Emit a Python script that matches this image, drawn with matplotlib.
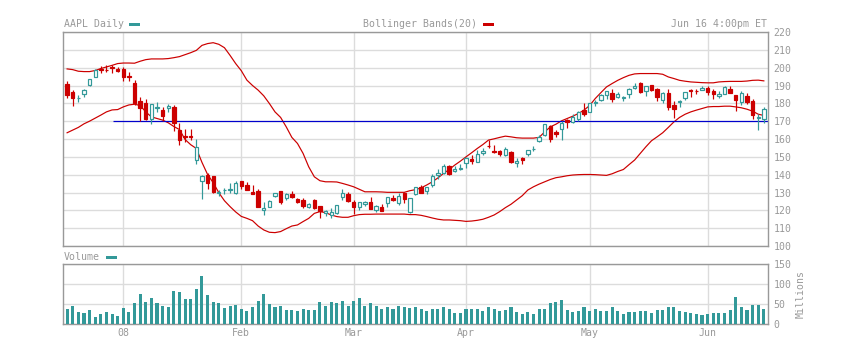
import numpy as np
import pandas as pd
import matplotlib
matplotlib.use('Agg')
import matplotlib.pyplot as plt
from matplotlib.patches import Rectangle

# Daily AAPL prices, 17 Dec 2007 .. 16 Jun 2008
holidays = ['2007-12-25', '2008-01-01', '2008-01-21', '2008-02-18',
            '2008-03-21', '2008-05-26']
dates = pd.bdate_range('2007-12-17', '2008-06-16').drop(pd.to_datetime(holidays))

open_ = [190.72, 186.52, 182.98, 185.43, 190.12, 195.03, 199.01, 198.95, 200.59, 199.50,
         199.27, 195.41, 191.45, 181.25, 180.14, 171.30, 177.58, 176.00, 177.52, 177.72,
         165.23, 161.51, 161.71, 148.06, 136.19, 139.99, 138.99, 129.45, 131.15, 131.37,
         129.45, 136.24, 134.21, 130.43, 130.83, 119.97, 122.08, 128.01, 130.70, 126.68,
         129.40, 126.27, 125.99, 122.00, 126.05, 122.48, 118.59, 117.64, 118.23, 127.20,
         129.29, 124.44, 121.99, 123.58, 124.61, 120.41, 121.98, 124.10, 127.04, 124.10,
         129.88, 119.33, 129.18, 133.12, 131.12, 134.01, 139.96, 140.87, 144.95, 141.80,
         143.27, 146.30, 148.78, 147.06, 152.19, 156.13, 153.55, 153.31, 151.13, 152.72,
         146.77, 149.40, 151.72, 154.17, 159.12, 162.21, 167.40, 164.05, 165.34, 170.70,
         169.75, 171.11, 176.19, 174.96, 180.19, 181.92, 184.66, 186.05, 183.77, 183.16,
         185.21, 188.61, 191.23, 186.81, 190.11, 187.86, 181.82, 185.67, 179.26, 180.77,
         182.75, 187.41, 186.76, 187.45, 188.60, 186.86, 184.02, 185.29, 188.00, 184.79,
         180.51, 184.34, 181.49, 171.64, 171.30]
high = [192.65, 187.33, 184.64, 187.83, 193.91, 199.33, 200.96, 201.33, 201.56, 200.50,
        200.26, 197.39, 193.00, 183.60, 182.46, 179.50, 181.00, 177.85, 179.42, 179.22,
        169.01, 165.36, 165.75, 159.98, 140.00, 140.70, 139.09, 131.50, 132.79, 135.45,
        136.65, 136.59, 135.90, 134.00, 131.92, 124.78, 125.70, 129.98, 131.00, 129.78,
        130.80, 127.08, 126.75, 123.95, 126.47, 122.51, 120.17, 121.09, 123.05, 132.20,
        130.21, 125.98, 124.88, 125.14, 127.50, 122.98, 123.46, 127.48, 128.68, 129.50,
        130.30, 127.00, 133.00, 134.29, 133.29, 140.25, 143.10, 145.74, 145.31, 144.65,
        145.71, 149.66, 151.20, 153.63, 154.71, 159.69, 156.45, 153.89, 155.42, 153.30,
        149.25, 149.72, 154.10, 156.00, 162.26, 168.50, 168.00, 164.84, 169.98, 171.10,
        173.75, 175.66, 180.00, 180.00, 181.92, 185.31, 187.12, 188.20, 186.50, 184.25,
        188.87, 191.45, 192.24, 189.90, 190.30, 188.69, 186.16, 187.95, 181.33, 181.99,
        186.43, 187.95, 188.20, 189.54, 189.65, 188.20, 187.09, 189.96, 189.95, 184.94,
        186.78, 186.00, 182.60, 174.16, 177.90]
low = [182.98, 178.60, 180.90, 183.33, 189.89, 194.79, 196.82, 197.60, 196.88, 197.75,
       192.55, 192.69, 178.89, 170.23, 170.80, 168.30, 175.41, 170.00, 175.17, 164.66,
       156.70, 158.42, 159.61, 146.00, 126.14, 132.01, 129.61, 127.86, 129.05, 130.00,
       129.40, 132.18, 131.42, 128.90, 121.77, 117.27, 121.60, 127.20, 123.62, 125.63,
       127.01, 124.06, 121.44, 121.10, 120.86, 115.87, 116.66, 115.44, 118.09, 125.77,
       124.80, 118.00, 120.40, 122.25, 120.81, 119.05, 119.37, 122.00, 125.17, 123.00,
       124.20, 118.28, 128.67, 129.67, 129.18, 133.35, 137.33, 140.64, 139.99, 141.60,
       142.52, 143.61, 145.85, 147.00, 150.75, 155.11, 152.32, 150.46, 150.60, 146.40,
       144.54, 145.72, 150.62, 153.35, 158.38, 161.76, 158.09, 161.08, 159.19, 166.42,
       169.13, 170.25, 172.92, 174.86, 178.55, 181.05, 182.18, 180.54, 183.07, 181.37,
       182.85, 187.86, 185.57, 184.20, 187.00, 181.30, 180.12, 176.25, 172.00, 177.80,
       181.84, 183.72, 185.50, 187.38, 184.53, 182.34, 183.23, 185.03, 185.55, 175.75,
       179.02, 179.59, 171.20, 165.31, 169.07]
close = [184.40, 182.98, 183.12, 187.21, 193.91, 198.80, 198.95, 198.57, 199.83, 198.08,
         194.84, 194.93, 180.05, 177.64, 171.25, 179.40, 178.02, 172.69, 178.78, 169.04,
         159.64, 160.89, 161.36, 155.64, 139.07, 135.60, 130.01, 130.01, 131.54, 132.18,
         135.36, 133.75, 131.65, 129.36, 122.00, 121.24, 125.48, 129.45, 124.86, 129.40,
         127.46, 124.63, 122.18, 123.82, 121.54, 119.46, 119.74, 119.15, 122.96, 129.91,
         125.02, 121.73, 124.62, 124.49, 120.93, 122.25, 119.69, 127.35, 126.03, 127.94,
         126.61, 126.73, 132.82, 129.67, 133.27, 139.53, 140.98, 145.06, 140.25, 143.01,
         143.50, 149.53, 147.49, 151.61, 153.08, 155.89, 152.84, 151.44, 154.55, 147.14,
         147.78, 148.38, 153.70, 154.49, 161.04, 168.16, 160.20, 162.89, 168.94, 169.73,
         172.24, 175.05, 173.95, 180.00, 180.94, 184.73, 186.66, 182.59, 185.06, 183.45,
         188.16, 189.96, 186.26, 189.73, 187.62, 183.60, 185.90, 178.19, 177.05, 181.17,
         186.43, 187.01, 186.69, 188.75, 186.10, 185.37, 185.19, 189.43, 185.64, 181.61,
         185.64, 180.81, 173.26, 172.37, 176.84]

# Bollinger Bands(20), upper and lower
bb_upper = [199.3, 198.9, 198.0, 197.8, 197.8, 198.4, 199.5, 200.4, 201.3, 202.3,
            202.6, 202.6, 202.5, 203.6, 204.5, 204.9, 204.9, 204.9, 205.1, 205.6,
            206.2, 207.3, 208.4, 209.7, 212.5, 213.5, 214.0, 213.1, 211.2, 206.9,
            202.3, 198.3, 193.0, 190.0, 187.4, 184.2, 179.9, 175.2, 172.1, 166.8,
            160.9, 157.5, 151.9, 144.4, 138.8, 136.6, 136.0, 136.0, 135.9, 135.1,
            134.2, 133.2, 131.8, 130.4, 130.4, 130.4, 130.3, 130.1, 130.1, 130.1,
            130.1, 131.0, 131.6, 132.6, 134.2, 136.0, 138.2, 140.7, 142.9, 145.4,
            147.6, 150.0, 152.3, 154.7, 156.9, 159.4, 160.1, 160.9, 161.6, 161.2,
            160.7, 160.5, 160.5, 160.5, 160.9, 164.0, 166.8, 168.3, 170.2, 171.5,
            172.8, 174.3, 176.2, 178.8, 182.7, 186.0, 189.2, 191.1, 192.9, 194.4,
            195.7, 196.5, 196.7, 196.7, 196.7, 196.7, 196.3, 194.8, 193.9, 192.9,
            192.4, 192.0, 191.8, 191.6, 191.5, 191.5, 192.0, 192.2, 192.3, 192.3,
            192.3, 192.5, 192.9, 193.0, 192.6]
bb_lower = [163.5, 165.0, 166.5, 168.5, 170.0, 171.7, 173.4, 175.2, 176.3, 176.5,
            178.0, 179.1, 179.5, 178.8, 175.2, 172.4, 171.5, 170.6, 169.1, 167.0,
            165.3, 159.7, 156.8, 154.7, 146.9, 140.1, 135.5, 129.9, 125.4, 122.1,
            119.1, 116.6, 115.5, 114.2, 111.2, 109.0, 107.7, 107.5, 108.1, 109.7,
            111.2, 111.8, 113.7, 115.5, 118.3, 119.3, 118.7, 117.4, 116.5, 116.1,
            116.1, 117.0, 117.6, 117.8, 117.8, 117.9, 117.9, 117.9, 117.9, 117.9,
            117.9, 117.6, 117.6, 117.2, 116.5, 115.7, 115.0, 114.6, 114.6, 114.4,
            114.2, 113.8, 114.0, 114.4, 115.0, 116.1, 117.4, 119.3, 121.5, 123.4,
            125.8, 128.2, 131.4, 133.2, 134.7, 136.0, 137.3, 138.3, 138.8, 139.4,
            139.8, 140.0, 140.1, 140.1, 140.0, 139.8, 139.6, 140.5, 141.8, 142.9,
            145.6, 148.2, 151.9, 155.6, 159.0, 161.2, 163.5, 166.5, 169.6, 172.1,
            173.9, 175.2, 176.2, 177.1, 178.0, 178.2, 178.2, 178.4, 178.4, 178.0,
            177.5, 176.7, 175.6, 173.9, 173.2]

# volume, millions of shares
volume = [38.3, 45.8, 30.8, 28.3, 35.8, 18.3, 25.8, 30.8, 25.8, 20.8,
          40.8, 30.8, 53.3, 75.8, 55.8, 65.8, 53.3, 45.8, 41.7, 83.3,
          80.8, 63.3, 63.3, 88.3, 120.8, 73.3, 55.8, 53.3, 40.8, 45.8,
          48.3, 38.3, 33.3, 43.3, 58.3, 75.8, 50.8, 43.3, 45.8, 35.8,
          35.8, 33.3, 38.3, 35.8, 35.8, 55.8, 45.8, 55.8, 53.3, 58.3,
          45.8, 58.3, 65.8, 45.8, 53.3, 45.8, 38.3, 43.3, 38.3, 45.8,
          43.3, 40.8, 43.3, 38.3, 33.3, 38.3, 38.3, 43.3, 38.3, 28.3,
          28.3, 38.3, 38.3, 38.3, 33.3, 43.3, 38.3, 33.3, 35.8, 43.3,
          30.8, 25.8, 30.8, 25.8, 38.3, 38.3, 53.3, 55.8, 60.8, 35.8,
          30.8, 33.3, 43.3, 33.3, 38.3, 33.3, 33.3, 43.3, 33.3, 25.8,
          30.8, 30.8, 33.3, 33.3, 28.3, 35.8, 35.8, 43.3, 43.3, 33.3,
          30.8, 28.3, 25.8, 23.3, 25.8, 28.3, 28.3, 28.3, 35.8, 68.3,
          43.3, 35.8, 48.3, 48.3, 38.3]

# horizontal trend line drawn from the end of December
trend_level = 170
trend_start = 8.2

TEAL = '#339999'
RED = '#cc0000'
GRID = '#dcdcdc'
FRAME = '#999999'
TEXT = '#999999'
W, H = 842, 339
PX = 0.72  # one pixel, in points

plt.rcParams['font.family'] = 'DejaVu Sans Mono'
plt.rcParams['font.size'] = 7.1

o = np.array(open_)
c = np.array(close)
x = np.arange(len(c))
up = c >= o

# first trading day of each month gets a gridline
month_idx = [i for i in range(1, len(dates)) if dates[i].month != dates[i - 1].month]
month_lbl = [dates[i].strftime('%y') if dates[i].month == 1 else dates[i].strftime('%b')
             for i in month_idx]

fig = plt.figure(figsize=(W / 100, H / 100), dpi=100)
ax = fig.add_axes([63 / W, (H - 246) / H, 705 / W, 214 / H])
axv = fig.add_axes([63 / W, (H - 324) / H, 705 / W, 60 / H])

for a in (ax, axv):
    a.set_xlim(-0.73, 124.74)
    a.set_xticks(month_idx)
    a.yaxis.tick_right()
    a.tick_params(length=0, colors=TEXT, labelsize=7.1)
    a.tick_params(axis='y', pad=4)
    a.grid(True, color=GRID, lw=1.4 * PX)
    a.set_axisbelow(True)
    for s in a.spines.values():
        s.set_color(FRAME)
        s.set_linewidth(1.4 * PX)

# price panel
ax.set_ylim(100, 220)
ax.set_yticks(range(100, 221, 10))
ax.tick_params(axis='x', labelbottom=False)

ax.plot(x, bb_upper, color=RED, lw=1.2 * PX, zorder=2)
ax.plot(x, bb_lower, color=RED, lw=1.2 * PX, zorder=2)
ax.hlines(trend_level, trend_start, 124.74, color='#0000cc', lw=1.2 * PX, zorder=2)

ax.vlines(x, low, high, colors=np.where(up, TEAL, RED), lw=1.2 * PX, zorder=3)
body_lo = np.minimum(o, c)
body_h = np.abs(c - o)
ax.bar(x[up], body_h[up], bottom=body_lo[up], width=0.6,
       facecolor='white', edgecolor=TEAL, lw=1.2 * PX, zorder=4)
ax.bar(x[~up], body_h[~up], bottom=body_lo[~up], width=0.6,
       facecolor=RED, edgecolor=RED, lw=1.2 * PX, zorder=4)

# volume panel
axv.bar(x, volume, width=0.55, color=TEAL, zorder=3)
axv.set_ylim(0, 150)
axv.set_yticks([0, 50, 100, 150])
axv.set_xticklabels(month_lbl)
axv.tick_params(axis='x', pad=3)
axv.yaxis.set_label_position('right')
axv.set_ylabel('Millions', color=TEXT, fontsize=7.1, labelpad=3)

# header texts and legend swatches
def px_text(px, py, s, ha='left'):
    fig.text(px / W, 1 - py / H, s, ha=ha, va='baseline', color=TEXT, fontsize=7.1)

def swatch(px, py, w, color):
    fig.add_artist(Rectangle((px / W, 1 - (py + 1.5) / H), w / W, 3 / H,
                             transform=fig.transFigure, color=color, lw=0))

px_text(64, 27, 'AAPL Daily')
swatch(129, 24.5, 11, TEAL)
px_text(363, 27, 'Bollinger Bands(20)')
swatch(483, 24.5, 11, RED)
px_text(767, 27, 'Jun 16 4:00pm ET', ha='right')
px_text(64, 260, 'Volume')
swatch(106, 257, 11, TEAL)

fig.savefig('out.png', dpi=100)
